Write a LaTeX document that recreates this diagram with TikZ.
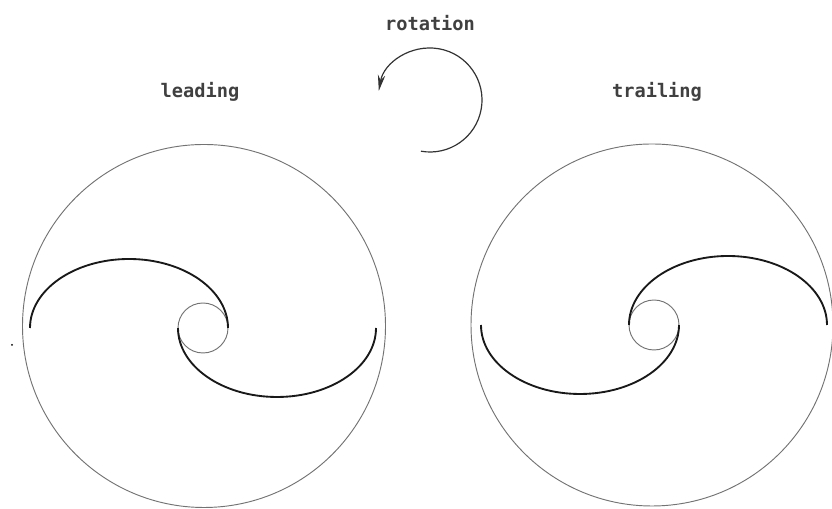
\documentclass[tikz,border=0pt]{standalone}
\usepackage{fontspec}
\newfontfamily\labelfont{DejaVu Sans Mono}
\usetikzlibrary{arrows.meta}
\begin{document}
\begin{tikzpicture}[x=0.75pt, y=0.75pt, >={Stealth[length=12pt,width=5.5pt]},
  rim/.style={draw=black!55, line width=0.7pt},
  arm/.style={draw=black!90, line width=1.4pt},
  lbl/.style={font=\labelfont\bfseries\fontsize{14}{16}\selectfont, text=black!75}]
  \useasboundingbox (0,0) rectangle (832,509);

  % Labels
  \node[lbl] (rot) at (430,486) {rotation};
  \node[lbl] (lead) at (200,417) {leading};
  \node[lbl] (trail) at (657,417) {trailing};

  % Rotation sense
  \coordinate (R) at (430,409);
  \draw[->, black!80, line width=0.9pt] ([shift={(-100:52)}]R) arc[start angle=-100, end angle=170, radius=52];

  % Left disc: leading arms
  \coordinate (L) at (204,183);
  \coordinate (Lh) at (203,181);
  \draw[rim] (L) circle (181.5);
  \draw[rim] (Lh) circle (25);
  \draw[arm] ([shift={(-173,0)}]Lh) arc[start angle=180, end angle=0, x radius=99, y radius=69];
  \draw[arm] ([shift={(-25,0)}]Lh) arc[start angle=180, end angle=360, x radius=99, y radius=69];

  % Right disc: trailing arms (mirror)
  \coordinate (T) at (652,184);
  \coordinate (Th) at (654,184);
  \draw[rim] (T) circle (181);
  \draw[rim] (Th) circle (25);
  \draw[arm] ([shift={(-25,0)}]Th) arc[start angle=180, end angle=0, x radius=99, y radius=69];
  \draw[arm] ([shift={(-173,0)}]Th) arc[start angle=180, end angle=360, x radius=99, y radius=69];

  % stray mark
  \fill (12,164) circle (1);
\end{tikzpicture}
\end{document}
